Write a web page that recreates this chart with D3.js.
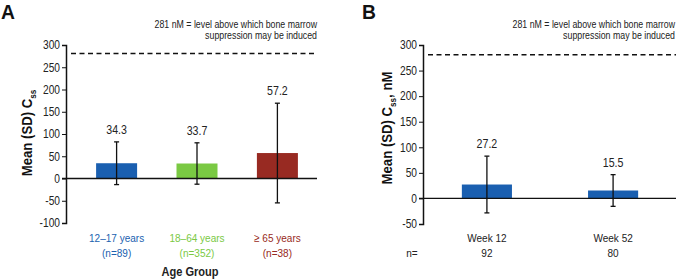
<!DOCTYPE html>
<html>
<head>
<meta charset="utf-8">
<script src="https://cdn.jsdelivr.net/npm/d3@7"></script>
<style>
  body { margin: 0; background: #fff; }
  svg { display: block; font-family: "Liberation Sans", Arial, sans-serif; }
  .tick text { font-size: 12px; fill: #222; }
  .val { font-size: 12.5px; fill: #222; }
  .cat { font-size: 11.8px; }
  .note { font-size: 10px; fill: #222; }
  .ylab { font-size: 15.5px; font-weight: bold; fill: #111; }
  .panel { font-size: 21px; font-weight: bold; fill: #111; }
</style>
</head>
<body>
<div id="chart"></div>
<script>
// panel A: by age group
const ageGroups = ["12–17 years", "18–64 years", "≥ 65 years"];
const ageN = ["(n=89)", "(n=352)", "(n=38)"];
const ageMean = [34.3, 33.7, 57.2];
const ageSD = [48, 46.5, 112];
const ageColors = ["#1a5fb0", "#7ac943", "#982a22"];
const ageTicks = [-100, -50, 0, 50, 100, 150, 200, 250, 300];

// panel B: by week
const weeks = ["Week 12", "Week 52"];
const weekN = ["92", "80"];
const weekMean = [27.2, 15.5];
const weekSD = [55.5, 31];
const weekTicks = [-50, 0, 50, 100, 150, 200, 250, 300];

const threshold = 281;
const noteLines = ["281 nM = level above which bone marrow", "suppression may be induced"];

const W = 677, H = 280;
const SQ = 0.85; // the original type is a condensed face
const svg = d3.select("#chart").append("svg")
  .attr("width", W)
  .attr("height", H);

// squash text horizontally, keeping its anchor point
function squeeze(sel, s) {
  sel.each(function () {
    let t = d3.select(this);
    let x = +t.attr("x") || 0, y = +t.attr("y") || 0;
    t.attr("x", 0).attr("y", 0)
      .attr("transform", "translate(" + x + "," + y + ") scale(" + s + ",1)");
  });
}

function panel(o) {
  let g = svg.append("g");
  let y = d3.scaleLinear().domain(o.domain).range([o.bottom, 45]);
  let x = d3.scaleBand().domain(o.cats).range(o.xr).paddingInner(o.pi).paddingOuter(o.po);

  // panel letter
  g.append("text").attr("class", "panel").attr("x", o.letterX).attr("y", 19).text(o.letter)
    .call(squeeze, 0.92);

  // note
  g.append("g").selectAll("text")
    .data(noteLines)
    .enter().append("text")
    .attr("class", "note")
    .attr("text-anchor", "end")
    .attr("x", o.noteX)
    .attr("y", (d, i) => 28 + i * 10.5)
    .text(d => d)
    .call(squeeze, 0.88);

  // y axis
  let ax = g.append("g")
    .attr("transform", "translate(" + o.axisX + ",0)")
    .call(d3.axisLeft(y).tickValues(o.ticks).tickFormat(d => String(d)).tickSize(4).tickPadding(2));
  ax.select(".domain").attr("stroke", "#111").attr("stroke-width", 1.5);
  ax.selectAll(".tick line").attr("stroke", "#111");
  ax.selectAll(".tick text").call(squeeze, SQ);

  // threshold line
  g.append("line")
    .attr("x1", o.axisX + 5).attr("x2", o.lineEnd)
    .attr("y1", y(threshold)).attr("y2", y(threshold))
    .attr("stroke", "#111").attr("stroke-width", 1.4)
    .attr("stroke-dasharray", "5,3.5");

  // bars
  g.append("g").selectAll("rect")
    .data(o.mean)
    .enter().append("rect")
    .attr("x", (d, i) => x(o.cats[i]))
    .attr("width", x.bandwidth())
    .attr("y", d => y(d))
    .attr("height", d => y(0) - y(d))
    .attr("fill", (d, i) => o.colors[i]);

  // zero line
  g.append("line")
    .attr("x1", o.axisX - 4).attr("x2", o.lineEnd)
    .attr("y1", y(0)).attr("y2", y(0))
    .attr("stroke", "#111").attr("stroke-width", 1.3);

  // error bars
  let eb = g.append("g").selectAll("g")
    .data(o.mean)
    .enter().append("g")
    .attr("stroke", "#111").attr("stroke-width", 1.3);
  let cx = i => x(o.cats[i]) + x.bandwidth() / 2;
  eb.append("line")
    .attr("x1", (d, i) => cx(i)).attr("x2", (d, i) => cx(i))
    .attr("y1", (d, i) => y(d + o.sd[i])).attr("y2", (d, i) => y(d - o.sd[i]));
  eb.append("line")
    .attr("x1", (d, i) => cx(i) - 2.5).attr("x2", (d, i) => cx(i) + 2.5)
    .attr("y1", (d, i) => y(d + o.sd[i])).attr("y2", (d, i) => y(d + o.sd[i]));
  eb.append("line")
    .attr("x1", (d, i) => cx(i) - 2.5).attr("x2", (d, i) => cx(i) + 2.5)
    .attr("y1", (d, i) => y(d - o.sd[i])).attr("y2", (d, i) => y(d - o.sd[i]));

  // value labels
  g.append("g").selectAll("text")
    .data(o.mean)
    .enter().append("text")
    .attr("class", "val")
    .attr("text-anchor", "middle")
    .attr("x", (d, i) => cx(i))
    .attr("y", (d, i) => y(d + o.sd[i]) - 8)
    .text(d => d.toFixed(1))
    .call(squeeze, SQ);

  // category labels
  g.append("g").selectAll("text")
    .data(o.cats)
    .enter().append("text")
    .attr("class", "cat")
    .attr("text-anchor", "middle")
    .attr("x", (d, i) => cx(i))
    .attr("y", 242)
    .style("fill", (d, i) => o.labelColors[i])
    .text(d => d)
    .call(squeeze, SQ);
  g.append("g").selectAll("text")
    .data(o.n)
    .enter().append("text")
    .attr("class", "cat")
    .attr("text-anchor", "middle")
    .attr("x", (d, i) => cx(i))
    .attr("y", 257)
    .style("fill", (d, i) => o.labelColors[i])
    .text(d => d)
    .call(squeeze, SQ);

  // y label
  let yl = g.append("text")
    .attr("class", "ylab")
    .attr("text-anchor", "middle")
    .attr("transform", "translate(" + o.ylabX + "," + o.ylabY + ") rotate(-90) scale(" + SQ + ",1)");
  yl.append("tspan").text("Mean (SD) C");
  yl.append("tspan").attr("dy", 4).attr("font-size", "9.5px").text("ss");
  if (o.ylabTail) yl.append("tspan").attr("dy", -4).text(o.ylabTail);

  return g;
}

panel({
  letter: "A", letterX: 1,
  cats: ageGroups, n: ageN, mean: ageMean, sd: ageSD,
  colors: ageColors, labelColors: ageColors,
  domain: [-100, 300], bottom: 223, ticks: ageTicks,
  xr: [76, 318], pi: 0.49, po: 0.25,
  axisX: 66, lineEnd: 317, noteX: 317,
  ylabX: 32, ylabY: 133, ylabTail: ""
});

let gB = panel({
  letter: "B", letterX: 362,
  cats: weeks, n: weekN, mean: weekMean, sd: weekSD,
  colors: [ageColors[0], ageColors[0]], labelColors: ["#222", "#222"],
  domain: [-50, 300], bottom: 224, ticks: weekTicks,
  xr: [424, 676], pi: 0.603, po: 0.3,
  axisX: 423, lineEnd: 676, noteX: 675,
  ylabX: 392, ylabY: 128, ylabTail: ", nM"
});

gB.append("text").attr("class", "cat").style("fill", "#222")
  .attr("x", 412).attr("y", 257)
  .attr("text-anchor", "middle").text("n=")
  .call(squeeze, SQ);

svg.append("text")
  .attr("x", 190).attr("y", 276)
  .attr("text-anchor", "middle")
  .attr("font-size", "13.5px").attr("font-weight", "bold")
  .attr("fill", "#222")
  .text("Age Group")
  .call(squeeze, 0.82);
</script>
</body>
</html>
